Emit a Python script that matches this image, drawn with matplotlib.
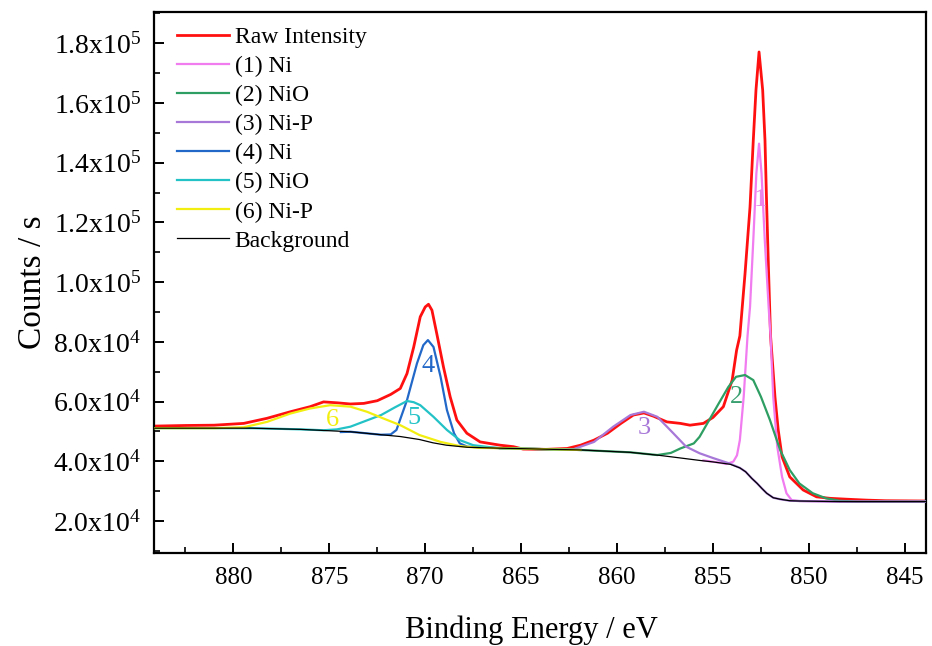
import matplotlib
matplotlib.use("Agg")
import matplotlib.pyplot as plt
from matplotlib.ticker import MultipleLocator, FuncFormatter

plt.rcParams['font.family'] = ['Liberation Serif', 'DejaVu Serif']
plt.rcParams['mathtext.fontset'] = 'custom'
plt.rcParams['mathtext.rm'] = 'Liberation Serif'
plt.rcParams['mathtext.it'] = 'Liberation Serif:italic'

# ---------------- data (binding energy eV, counts/s) ----------------
raw_x = [884.1, 882.5, 881.0, 879.46, 878.25, 877.03, 876.0, 875.3, 874.6, 873.9,
         873.2, 872.5, 871.8, 871.3, 870.95, 870.6, 870.26, 870.0, 869.83, 869.65,
         869.4, 869.05, 868.7, 868.35, 867.83, 867.14, 866.1, 865.4, 864.9, 863.7,
         862.6, 861.9, 861.2, 860.5, 859.8, 859.15, 858.6, 858.1, 857.4, 856.7,
         856.2, 855.5, 855.0, 854.46, 854.0, 853.77, 853.6, 853.33, 853.07, 852.9,
         852.76, 852.6, 852.41, 852.29, 852.2, 852.1, 852.0, 851.77, 851.6, 851.4,
         851.0, 850.3, 849.6, 848.9, 848.0, 847.0, 846.0, 843.9]
raw_y = [51800, 52000, 52100, 52700, 54400, 56600, 58300, 59900, 59600, 59200,
         59400, 60300, 62400, 64400, 69400, 78300, 88400, 91700, 92600, 90600,
         82800, 71600, 61600, 53800, 49400, 46500, 45400, 44900, 44100, 44000,
         44300, 45400, 47100, 49400, 52700, 55500, 56200, 55100, 53200, 52700,
         52100, 52700, 54700, 58300, 67200, 77200, 82000, 102900, 125200, 147500,
         164300, 177100, 164300, 147500, 125200, 102900, 82000, 61600, 50500, 41500,
         34800, 30400, 28100, 27600, 27300, 27000, 26800, 26700]

bg_x = [884.2, 881.0, 879.1, 876.5, 873.9, 872.3, 871.3, 870.3, 869.6, 868.9,
        867.8, 866.1, 864.0, 861.9, 859.3, 857.8, 856.8, 855.7, 855.0, 854.1,
        853.6, 853.3, 852.98, 852.7, 852.45, 852.2, 851.86, 851.5, 851.0, 850.5,
        848.4, 843.9]
bg_y = [51100, 51100, 51100, 50700, 49900, 48900, 48300, 47300, 46200, 45400,
        44700, 44400, 44100, 43800, 43000, 42000, 41200, 40300, 39800, 39000,
        37800, 36500, 34300, 32600, 30900, 29300, 27800, 27300, 26800, 26700,
        26500, 26500]

p1_x = [855.5, 854.6, 854.3, 853.94, 853.75, 853.6, 853.4, 853.2, 853.07, 852.9,
        852.74, 852.6, 852.47, 852.3, 852.1, 852.0, 851.86, 851.65, 851.4, 851.17,
        850.9, 850.5, 848.4, 843.9]
p1_y = [40300, 39500, 39100, 39900, 42000, 47100, 61600, 82000, 91700, 114000,
        136400, 146400, 136400, 114000, 91700, 82000, 61600, 44900, 34800, 29300,
        27000, 26700, 26500, 26500]

p2_x = [866.1, 864.0, 861.9, 859.3, 857.9, 857.2, 856.7, 856.0, 855.7, 855.2,
        854.7, 854.2, 853.8, 853.33, 852.9, 852.5, 852.03, 851.5, 851.0, 850.5,
        849.8, 849.1, 848.4, 847.5, 843.9]
p2_y = [44400, 44100, 43800, 43000, 42100, 42800, 44300, 46000, 48200, 53800,
        59400, 64900, 68300, 68900, 67200, 61600, 53800, 43800, 37100, 32600,
        29300, 27600, 26800, 26500, 26500]

p3_x = [866.1, 864.0, 862.3, 861.2, 860.2, 859.3, 858.6, 857.9, 857.07, 856.4,
        855.7, 855.0, 854.1, 853.6, 853.3, 852.98, 852.7, 852.45, 852.2, 851.86,
        851.5, 851.0, 850.5, 848.4, 843.9]
p3_y = [44400, 44100, 44000, 46500, 51600, 55500, 56600, 54900, 49400, 44900,
        42700, 41100, 39200, 37800, 36500, 34300, 32600, 30900, 29300, 27800,
        27300, 26800, 26700, 26500, 26500]

p4_x = [874.4, 873.9, 872.3, 871.8, 871.5, 870.95, 870.43, 870.1, 869.86, 869.57,
        869.2, 868.87, 868.5, 868.2, 867.8, 866.1, 864.0, 861.9]
p4_y = [49800, 49900, 48900, 49000, 50500, 60500, 72800, 78900, 80600, 78300,
        68300, 57200, 49400, 46000, 44900, 44400, 44100, 43800]

p5_x = [884.2, 879.0, 876.5, 875.3, 874.6, 873.9, 873.0, 872.3, 871.6, 870.95,
        870.6, 870.26, 869.57, 868.87, 868.2, 867.5, 866.6, 866.1, 864.0, 861.9]
p5_y = [51100, 51100, 50700, 50400, 50700, 51600, 53800, 55500, 58000, 60200,
        59800, 58800, 54900, 50500, 47100, 45400, 44700, 44400, 44100, 43800]

p6_x = [884.2, 881.0, 879.46, 878.25, 877.03, 876.0, 874.95, 873.9, 873.04, 872.2,
        871.3, 870.3, 869.2, 868.2, 867.2, 866.1, 864.0, 861.9]
p6_y = [51100, 51100, 51400, 53200, 56000, 57700, 58800, 58300, 56600, 54400,
        52100, 48800, 46500, 45100, 44500, 44400, 44100, 43800]

legend_labels = ["Raw Intensity", "(1) Ni", "(2) NiO", "(3) Ni-P",
                 "(4) Ni", "(5) NiO", "(6) Ni-P", "Background"]
peak_tags = ["1", "2", "3", "4", "5", "6"]
tag_x = [852.55, 853.75, 858.6, 869.84, 870.57, 874.84]
tag_y = [127400, 61500, 51100, 71900, 54500, 53800]

colors = ['#FF1010', '#F07CF0', '#2E9E62', '#A878D8', '#2268C8', '#22C2C6', '#F2EE10', '#000000']
tag_colors = ['#E88AE8', '#3AA070', '#A878D8', '#2268C8', '#22C2C6', '#F2EE10']

# ---------------- figure ----------------
fig = plt.figure(figsize=(9.32, 6.46), dpi=100)
ax = fig.add_axes([0.165, 0.144, 0.8285, 0.8375])

series = [(raw_x, raw_y), (p1_x, p1_y), (p2_x, p2_y), (p3_x, p3_y),
          (p4_x, p4_y), (p5_x, p5_y), (p6_x, p6_y), (bg_x, bg_y)]
widths = [2.0, 1.6, 1.6, 1.6, 1.6, 1.6, 1.6, 0.9]
handles = []
for (xs, ys), c, lw, lab in zip(series, colors, widths, legend_labels):
    h, = ax.plot(xs, ys, color=c, lw=lw, label=lab, zorder=3)
    handles.append(h)
handles[0].set_zorder(2)

for t, x, y, c in zip(peak_tags, tag_x, tag_y, tag_colors):
    ax.text(x, y, t, color=c, fontsize=19, ha='center', va='center', zorder=5)

ax.set_xlim(884.15, 843.9)
ax.set_ylim(9300, 190500)

ax.xaxis.set_major_locator(MultipleLocator(5))
ax.xaxis.set_minor_locator(MultipleLocator(2.5))
ax.yaxis.set_major_locator(MultipleLocator(20000))
ax.yaxis.set_minor_locator(MultipleLocator(10000))


def yfmt(v, pos):
    if v <= 0:
        return ''
    e = 0
    m = v
    while m >= 10:
        m /= 10.0
        e += 1
    return r'$\mathrm{%.1fx10^{%d}}$' % (m, e)


ax.yaxis.set_major_formatter(FuncFormatter(yfmt))
ax.xaxis.set_major_formatter(FuncFormatter(lambda v, p: '%d' % round(v)))

ax.tick_params(which='major', direction='in', length=7, width=1.4, labelsize=18)
ax.tick_params(axis='y', which='major', labelsize=20)
ax.tick_params(which='minor', direction='in', length=4, width=1.2)
ax.tick_params(axis='x', pad=10)
ax.tick_params(axis='y', pad=9)
for s in ax.spines.values():
    s.set_linewidth(1.6)

ax.set_xlabel('Binding Energy / eV', fontsize=22)
ax.xaxis.set_label_coords(0.489, -0.115)
ax.set_ylabel('Counts / s', fontsize=24)
ax.yaxis.set_label_coords(-0.137, 0.5)

leg = ax.legend(handles=handles, loc='upper left', frameon=False, fontsize=17,
                handlelength=2.2, handletextpad=0.25, labelspacing=0.32,
                borderaxespad=0.15, bbox_to_anchor=(0.013, 0.997))

fig.savefig('out.png', dpi=100)
